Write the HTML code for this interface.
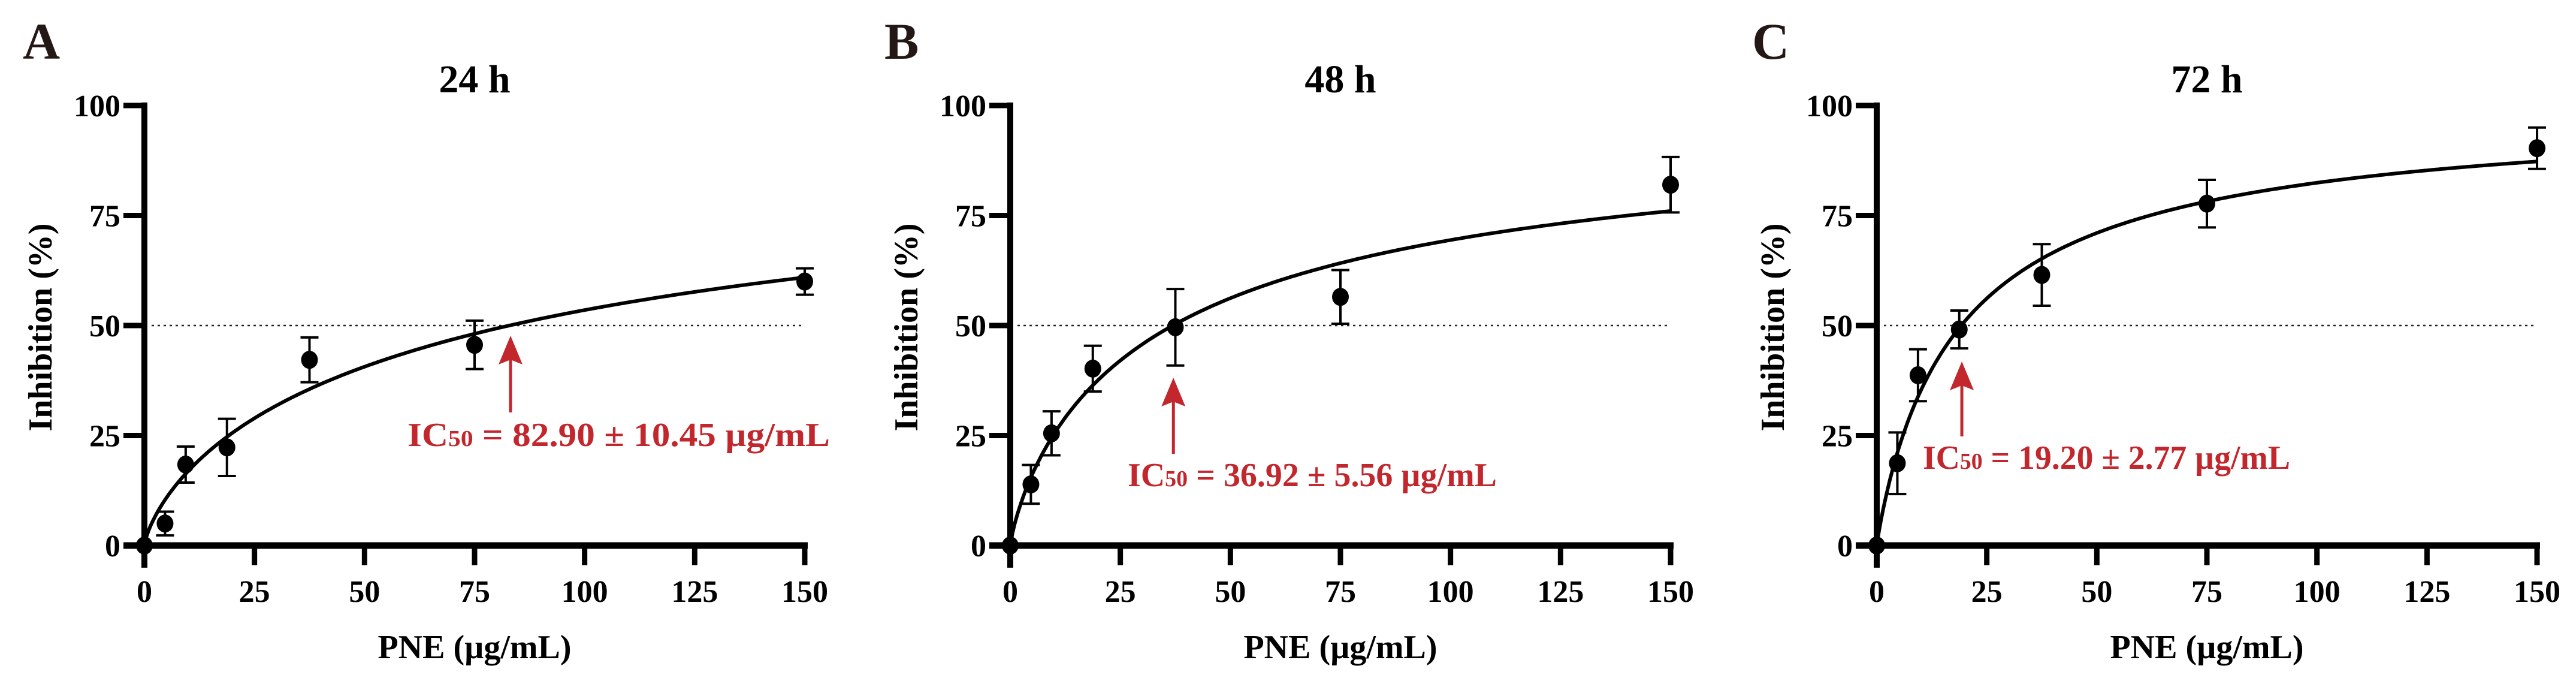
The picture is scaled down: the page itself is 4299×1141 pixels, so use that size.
<!DOCTYPE html>
<html><head><meta charset="utf-8"><style>
html,body{margin:0;padding:0;background:#fff;}
svg{display:block;font-family:"Liberation Serif","Times New Roman",serif;font-weight:bold;}
</style></head><body>
<svg id="fig" width="4299" height="1141" viewBox="0 0 4299 1141" xmlns="http://www.w3.org/2000/svg"></svg>
<script>
const concentrations = [0, 4.6875, 9.375, 18.75, 37.5, 75, 150];
const inhibition24 = [0, 5.0, 18.4, 22.3, 42.2, 45.6, 60.0];
const error24 = [0, 2.7, 4.1, 6.5, 5.1, 5.5, 3.0];
const inhibition48 = [0, 13.9, 25.5, 40.2, 49.6, 56.5, 82.0];
const error48 = [0, 4.4, 5.0, 5.2, 8.7, 6.1, 6.3];
const inhibition72 = [0, 18.7, 38.7, 49.1, 61.5, 77.7, 90.3];
const error72 = [0, 7.0, 5.9, 4.3, 7.0, 5.4, 4.7];
const ic50Values = [82.90, 36.92, 19.20];
const ic50Errors = ["10.45", "5.56", "2.77"];
const hillSlopes = [0.75, 0.823, 0.937];
const panelTitles = ["24 h", "48 h", "72 h"];
const panelLetters = ["A", "B", "C"];
const xTicks = [0, 25, 50, 75, 100, 125, 150];
const yTicks = [0, 25, 50, 75, 100];

const NS = "http://www.w3.org/2000/svg";
const svg = document.getElementById("fig");
function mk(tag, attrs, parent) {
  const e = document.createElementNS(NS, tag);
  for (const k in attrs) e.setAttribute(k, attrs[k]);
  (parent || svg).appendChild(e);
  return e;
}
const panelX0 = [241, 1686, 3132];
const letterX = [38, 1476, 2924];
const annotY = [744, 811, 782];
const annotX = [680, 1882, 3209];
const annotW = [705, 616, 613];
const arrowTip = [560, 630, 603];
const arrowBot = [688, 757, 728];
const AXW = 1102, Y0 = 910, Y100 = 176;
const RED = "#c1272d";

const series = [inhibition24, inhibition48, inhibition72];
const errs = [error24, error48, error72];

for (let p = 0; p < 3; p++) {
  const x0 = panelX0[p];
  const sx = v => x0 + v / 150 * AXW;
  const sy = v => Y0 - v / 100 * (Y0 - Y100);
  const g = mk("g", {});
  
  

  const letter = mk("text", {x: letterX[p], y: 98, "font-size": 86, fill: "#231815"}, g);
  letter.textContent = panelLetters[p];
  
  

  const title = mk("text", {x: x0 + AXW / 2, y: 154, "font-size": 66, "text-anchor": "middle", fill: "#000"}, g);
  title.textContent = panelTitles[p];
  
  

  const dl = mk("line", {x1: x0 + 12, x2: sx(150) - 4, y1: sy(50), y2: sy(50), stroke: "#222", "stroke-width": 2.5, "stroke-dasharray": "4 6"}, g);
  
  

  const ya = mk("line", {x1: x0, x2: x0, y1: Y100 - 5, y2: Y0 + 37, stroke: "#000", "stroke-width": 10}, g);
  
  
  const xa = mk("line", {x1: x0 - 35, x2: sx(150) + 5, y1: Y0, y2: Y0, stroke: "#000", "stroke-width": 11}, g);
  
  

  yTicks.forEach(t => {
    const tl = mk("line", {x1: x0 - 35, x2: x0, y1: sy(t), y2: sy(t), stroke: "#000", "stroke-width": 9}, g);
    
    
    const lb = mk("text", {x: x0 - 40, y: sy(t) + 18, "font-size": 52, "text-anchor": "end"}, g);
    lb.textContent = t;
    
    
  });
  xTicks.forEach(t => {
    const tl = mk("line", {x1: sx(t), x2: sx(t), y1: Y0, y2: Y0 + 33, stroke: "#000", "stroke-width": 9}, g);
    
    
    const lb = mk("text", {x: sx(t), y: 1004, "font-size": 52, "text-anchor": "middle"}, g);
    lb.textContent = t;
    
    
  });

  const xt = mk("text", {x: x0 + AXW / 2, y: 1098, "font-size": 56, "text-anchor": "middle"}, g);
  xt.textContent = "PNE (µg/mL)";
  
  
  const ytx = x0 - 175;
  const yt = mk("text", {x: ytx, y: 546, "font-size": 56, "text-anchor": "middle", transform: `rotate(-90 ${ytx} 546)`, dy: 20}, g);
  yt.textContent = "Inhibition (%)";
  
  

  let d = "";
  const ic = ic50Values[p], h = hillSlopes[p];
  for (let i = 0; i <= 300; i++) {
    const c = 150 * i / 300;
    const v = c === 0 ? 0 : 100 * Math.pow(c, h) / (Math.pow(ic, h) + Math.pow(c, h));
    d += (i ? "L" : "M") + sx(c).toFixed(1) + " " + sy(v).toFixed(1);
  }
  const cv = mk("path", {d: d, fill: "none", stroke: "#000", "stroke-width": 6}, g);
  
  

  concentrations.forEach((c, i) => {
    const v = series[p][i], e = errs[p][i];
    const px = sx(c);
    if (e > 0) {
      const eb = mk("path", {d: `M${px} ${sy(v + e)}V${sy(v - e)}M${px - 15} ${sy(v + e)}h30M${px - 15} ${sy(v - e)}h30`, stroke: "#000", "stroke-width": 4, fill: "none"}, g);
      
      
    }
    const dot = mk("ellipse", {cx: px, cy: sy(v), rx: 14, ry: 15, fill: "#000"}, g);
    
    
  });

  const ax = sx(ic) + (p === 0 ? 2 : 1);
  const arr = mk("path", {d: `M${ax} ${arrowBot[p]}V${arrowTip[p] + 40}`, stroke: RED, "stroke-width": 5}, g);
  
  
  const ah = mk("path", {d: `M${ax} ${arrowTip[p]}L${ax - 20} ${arrowTip[p] + 48}L${ax} ${arrowTip[p] + 40}L${ax + 20} ${arrowTip[p] + 48}Z`, fill: RED}, g);
  
  

  const at = mk("text", {x: annotX[p], y: annotY[p], "font-size": 56, fill: RED, textLength: annotW[p], lengthAdjust: "spacingAndGlyphs"}, g);
  
  
  const t1 = mk("tspan", {}, at); t1.textContent = "IC";
  const t2 = mk("tspan", {"font-size": 38}, at); t2.textContent = "50";
  const t3 = mk("tspan", {}, at); t3.textContent = " = " + ic.toFixed(2) + " ± " + ic50Errors[p] + " µg/mL";
}
</script>
</body></html>
